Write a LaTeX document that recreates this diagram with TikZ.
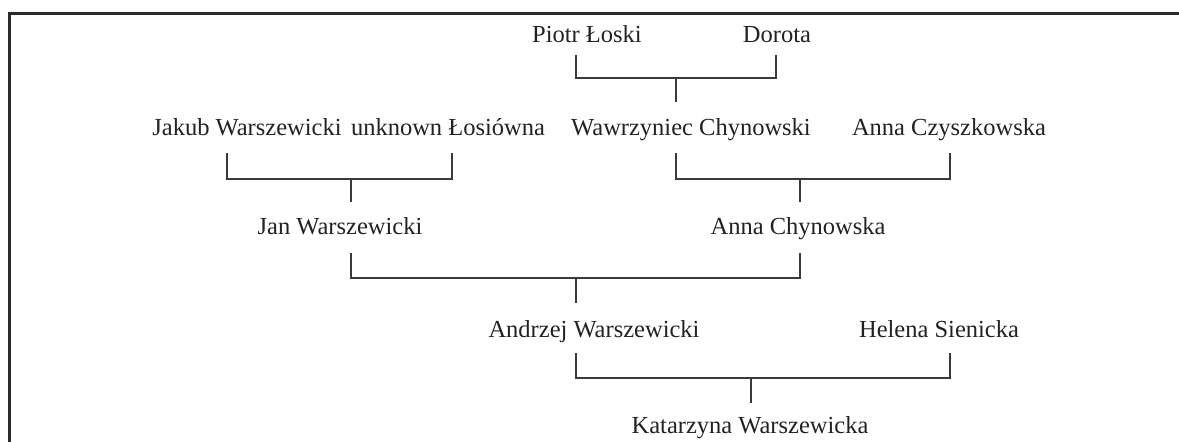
\documentclass[tikz,border=0pt]{standalone}
\usepackage{fontspec}
\setmainfont{Liberation Serif}
\definecolor{txt}{HTML}{222222}
\definecolor{ln}{HTML}{3A3A3A}
\definecolor{frame}{HTML}{2B2B2B}
\tikzset{
  person/.style={anchor=base, inner sep=0pt, text=txt, font=\fontsize{24.5}{28}\selectfont},
  conn/.style={draw=ln, line width=1.2pt},
  framestyle/.style={draw=frame, line width=3pt}
}
\begin{document}
\begin{tikzpicture}[x=1pt,y=-1pt]
\useasboundingbox (0,0) rectangle (1179,442);
% frame
\draw[framestyle] (9.5,442) -- (9.5,13) -- (1179,13);
% people
\node[person] (piotr) at (587,42) {Piotr Łoski};
\node[person] (dorota) at (777,42) {Dorota};
\node[person] (jakub) at (247,135) {Jakub Warszewicki};
\node[person] (losiowna) at (448,135) {unknown Łosiówna};
\node[person] (wawrzyniec) at (691,135) {Wawrzyniec Chynowski};
\node[person] (czyszkowska) at (949,135) {Anna Czyszkowska};
\node[person] (jan) at (340,234) {Jan Warszewicki};
\node[person] (annach) at (798,234) {Anna Chynowska};
\node[person] (andrzej) at (594,337) {Andrzej Warszewicki};
\node[person] (helena) at (939,337) {Helena Sienicka};
\node[person] (katarzyna) at (750,433) {Katarzyna Warszewicka};
% bracket 0: Piotr + Dorota -> Wawrzyniec
\coordinate (b0l) at (576,55);
\coordinate (b0r) at (776,55);
\coordinate (b0m) at (676,78);
\coordinate (b0s) at (676,102);
\draw[conn] (b0l) |- (b0m) -| (b0r);
\draw[conn] (b0m) -- (b0s);
% bracket 1a: Jakub + Losiowna -> Jan
\coordinate (b1l) at (227,153);
\coordinate (b1r) at (452,153);
\coordinate (b1m) at (351,179);
\coordinate (b1s) at (351,202);
\draw[conn] (b1l) |- (b1m) -| (b1r);
\draw[conn] (b1m) -- (b1s);
% bracket 1b: Wawrzyniec + Czyszkowska -> Anna Chynowska
\coordinate (b2l) at (676,153);
\coordinate (b2r) at (950,153);
\coordinate (b2m) at (800,179);
\coordinate (b2s) at (800,202);
\draw[conn] (b2l) |- (b2m) -| (b2r);
\draw[conn] (b2m) -- (b2s);
% bracket 2: Jan + Anna Chynowska -> Andrzej
\coordinate (b3l) at (351,253);
\coordinate (b3r) at (800,253);
\coordinate (b3m) at (576,278);
\coordinate (b3s) at (576,303);
\draw[conn] (b3l) |- (b3m) -| (b3r);
\draw[conn] (b3m) -- (b3s);
% bracket 3: Andrzej + Helena -> Katarzyna
\coordinate (b4l) at (576,353);
\coordinate (b4r) at (950,353);
\coordinate (b4m) at (751,378);
\coordinate (b4s) at (751,403);
\draw[conn] (b4l) |- (b4m) -| (b4r);
\draw[conn] (b4m) -- (b4s);
\end{tikzpicture}
\end{document}
